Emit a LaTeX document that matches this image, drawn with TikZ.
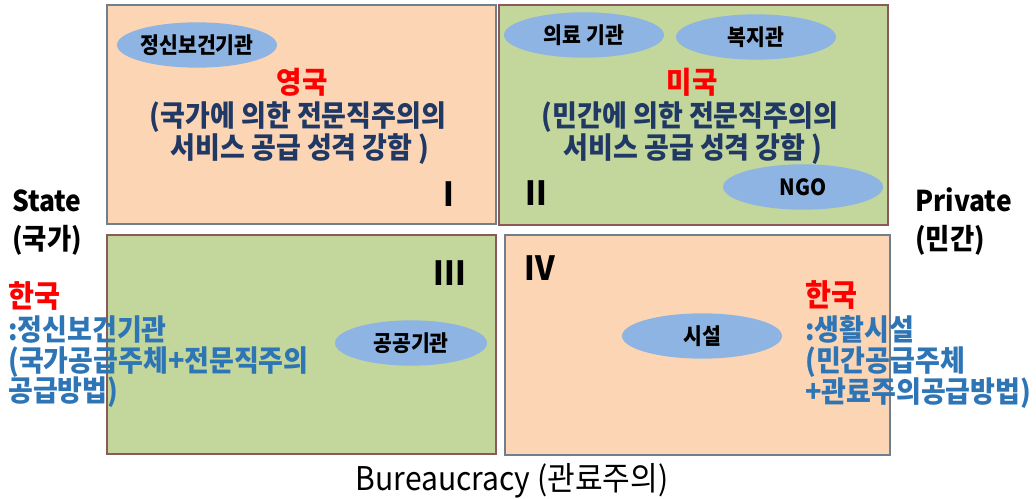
\documentclass[tikz,border=0pt]{standalone}
\usepackage{fontspec}
\setmainfont{Noto Sans CJK KR}[FakeStretch=0.92]
\usetikzlibrary{shapes.geometric}
\definecolor{peach}{HTML}{FCD5B5}
\definecolor{sage}{HTML}{C3D69B}
\definecolor{ovalblue}{HTML}{8DB4E2}
\definecolor{navy}{HTML}{1F3864}
\definecolor{lblue}{HTML}{2E75B6}
\definecolor{kred}{HTML}{FF0000}
\definecolor{edgegray}{HTML}{6F7F8F}
\definecolor{edgered}{HTML}{8A5A5A}
\tikzset{
  quad/.style={line width=1.1pt},
  oval/.style={ellipse, fill=ovalblue, inner sep=0pt, minimum width=120pt, minimum height=34pt,
    font=\bfseries\fontsize{16.7}{19}\selectfont, text=black},
  maintext/.style={anchor=base, inner sep=0pt, font=\bfseries\fontsize{22}{26}\selectfont, text=navy},
  country/.style={anchor=base, inner sep=0pt, font=\bfseries\fontsize{22.5}{26}\selectfont, text=kred},
  roman/.style={anchor=center, inner sep=0pt, font=\bfseries\fontsize{25}{28}\selectfont, text=black},
  axis/.style={anchor=base west, inner sep=0pt, font=\bfseries\fontsize{21.5}{25}\selectfont, text=black},
  side/.style={anchor=base west, inner sep=0pt, font=\bfseries\fontsize{22}{26}\selectfont, text=lblue},
  sidered/.style={side, text=kred, font=\bfseries\fontsize{23}{26}\selectfont},
}
\begin{document}
\begin{tikzpicture}[x=0.75pt,y=-0.75pt]
\useasboundingbox (0,0) rectangle (1036,499);
% quadrants
\draw[quad, fill=peach, draw=edgegray] (107,5) rectangle (496,224);
\draw[quad, fill=sage, draw=edgered] (499,5) rectangle (888,225);
\draw[quad, fill=sage, draw=edgered] (107,235) rectangle (496,454);
\draw[quad, fill=peach, draw=edgegray] (505,235) rectangle (890,455);
% ovals
\node[oval] (o1) at (197,45) {정신보건기관};
\node[oval] (o2) at (584,35) {의료 기관};
\node[oval] (o3) at (756,37) {복지관};
\node[oval] (o4) at (803,187) {NGO};
\node[oval, minimum width=114pt] (o5) at (411,343) {공공기관};
\node[oval] (o6) at (702,336) {시설};
% quadrant I text
\node[country] (uk) at (302,94) {영국};
\node[maintext] (uk1) at (298,127) {(국가에 의한 전문직주의의};
\node[maintext] (uk2) at (300,159) {서비스 공급 성격 강함 )};
% quadrant II text
\node[country] (us) at (692,94) {미국};
\node[maintext] (us1) at (690,127) {(민간에 의한 전문직주의의};
\node[maintext] (us2) at (693,159) {서비스 공급 성격 강함 )};
% roman numerals
\node[roman] (r1) at (449,194) {I};
\node[roman] (r2) at (536,193) {II};
\node[roman] (r3) at (450,273) {III};
\node[roman] (r4) at (540,268) {IV};
% axes
\node[axis] (st) at (12,212) {State};
\node[axis] (st2) at (12,250) {(국가)};
\node[axis] (pr) at (915,212) {Private};
\node[axis] (pr2) at (915,250) {(민간)};
\node[anchor=base, inner sep=0pt, font=\fontsize{24.5}{28}\selectfont] (bu) at (512,490) {Bureaucracy (관료주의)};
% left Korea note
\node[sidered] (kl0) at (8,307) {한국};
\node[side] (kl1) at (8,340) {:정신보건기관};
\node[side] (kl2) at (8,371) {(국가공급주체+전문직주의};
\node[side] (kl3) at (8,401) {공급방법)};
% right Korea note
\node[sidered] (kr0) at (805,306) {한국};
\node[side] (kr1) at (805,340) {:생활시설};
\node[side] (kr2) at (805,371) {(민간공급주체};
\node[side] (kr3) at (805,402) {+관료주의공급방법)};
\end{tikzpicture}
\end{document}
